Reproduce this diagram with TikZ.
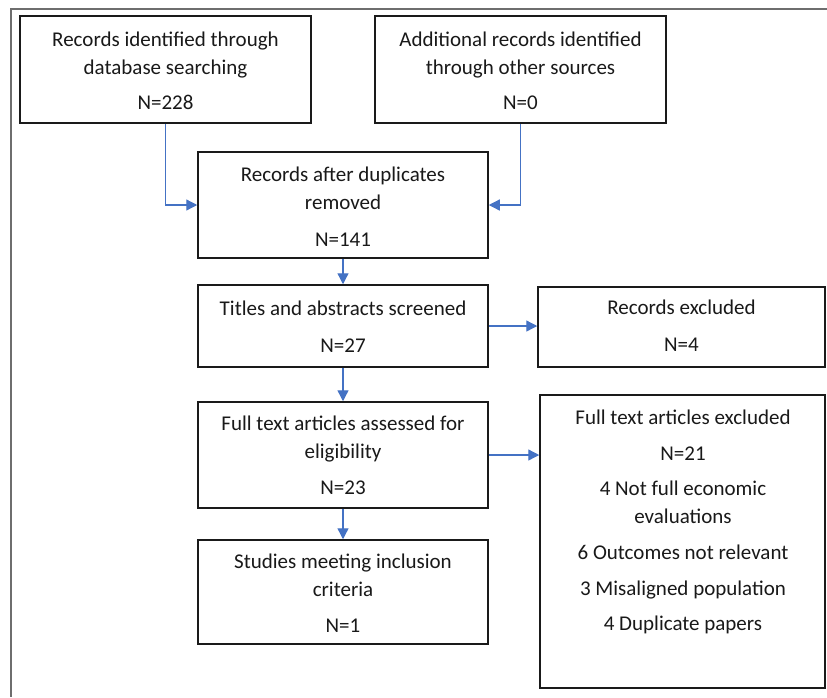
\documentclass[tikz,border=0pt]{standalone}
\usepackage{fontspec}
\setmainfont{Carlito}
\usetikzlibrary{arrows.meta}
\definecolor{arrowblue}{HTML}{4472C4}
\definecolor{framegray}{HTML}{6E6E6E}
\definecolor{boxline}{HTML}{1A1A1A}
\tikzset{
  box/.style={draw=boxline, line width=1.5pt, inner sep=0pt, fill=white},
  txt/.style={anchor=north, inner sep=0pt, align=center, text=black!90,
    font=\fontsize{21}{28}\selectfont},
  flow/.style={draw=arrowblue, line width=1.3pt, -{Triangle[length=11pt,width=11pt]}},
}
\begin{document}
\begin{tikzpicture}[x=1pt,y=-1pt]
\useasboundingbox (0,0) rectangle (827,697);
\draw[framegray, line width=1.8pt] (827,9) -- (11,9) -- (11,697);

\node[box, minimum width=291pt, minimum height=107pt] (a) at (165.5,69.5) {};
\node[box, minimum width=291pt, minimum height=107pt] (b) at (520.5,69.5) {};
\node[box, minimum width=290pt, minimum height=106pt] (c) at (343,205) {};
\node[box, minimum width=290pt, minimum height=82pt] (d) at (343,326) {};
\node[box, minimum width=287pt, minimum height=80pt] (e) at (681.5,327) {};
\node[box, minimum width=290pt, minimum height=106pt] (f) at (343,455) {};
\node[box, minimum width=285pt, minimum height=293pt] (g) at (682.5,541.5) {};
\node[box, minimum width=290pt, minimum height=104pt] (h) at (343,592) {};

\node[txt] (at) at (165.5,27) {\strut Records identified through\\database searching\\[7pt]N=228};
\node[txt] (bt) at (520.5,27) {\strut Additional records identified\\through other sources\\[7pt]N=0};
\node[txt] (ct) at (343,162) {\strut Records after duplicates\\removed\\[9pt]N=141};
\node[txt] (dt) at (343,295.5) {\strut Titles and abstracts screened\\[9pt]N=27};
\node[txt] (et) at (681.5,294.5) {\strut Records excluded\\[9pt]N=4};
\node[txt] (ft) at (343,410.5) {\strut Full text articles assessed for\\eligibility\\[8pt]N=23};
\node[txt] (gt) at (683,404.5) {\strut Full text articles excluded\\[8pt]N=21\\[7pt]4 Not full economic\\evaluations\\[8pt]6 Outcomes not relevant\\[8pt]3 Misaligned population\\[7pt]4 Duplicate papers};
\node[txt] (ht) at (343,548.5) {\strut Studies meeting inclusion\\criteria\\[8pt]N=1};

\draw[flow] (a.south) |- (c.west);
\draw[flow] (b.south) |- (c.east);
\draw[flow] (c.south) -- (d.north);
\draw[flow] (d.east) -- (d.east -| e.west);
\draw[flow] (d.south) -- (f.north);
\draw[flow] (f.east) -- (f.east -| g.west);
\draw[flow] (f.south) -- (h.north);
\end{tikzpicture}
\end{document}
